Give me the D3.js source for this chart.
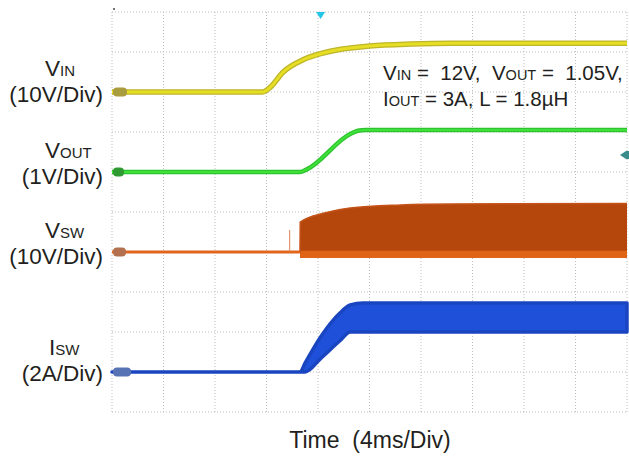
<!DOCTYPE html>
<html>
<head>
<meta charset="utf-8">
<script src="https://cdn.jsdelivr.net/npm/d3@7"></script>
<style>
  html, body { margin: 0; padding: 0; background: #fff; }
  svg { display: block; }
  text { font-family: "Liberation Sans", Arial, sans-serif; fill: #231f20; }
</style>
</head>
<body>
<div id="chart"></div>
<script>
// ─── data (time in ms, values in channel units) ──────────────────
const vinTime   = [0, 11.7, 12.3, 13.3, 14.8, 16.4, 17.9, 20.0, 23.2, 26.3, 40];
const vinVolts  = [0, 0, 1.2, 5.0, 8.0, 9.75, 10.75, 11.5, 12.0, 12.2, 12.2];

const voutTime  = [0, 14.6, 15.1, 18.5, 19.1, 19.7, 40];
const voutVolts = [0, 0, 0.06, 0.95, 1.03, 1.05, 1.05];

const vswTime   = [0, 14.6, 14.62, 16.5, 18.5, 22.4, 26.3, 40];
const vswHigh   = [0, 0, 7.5, 9.75, 11.0, 11.75, 12.0, 12.1];
const vswLow    = [0, 0, -1.5, -1.5, -1.5, -1.5, -1.5, -1.5];
const vswSpikeTime  = [13.8, 13.8];
const vswSpikeVolts = [0, 5.5];

const iswTime   = [0, 14.6, 15.0, 16.2, 17.7, 18.5, 19.5, 40];
const iswHigh   = [0, 0, 0.45, 1.75, 2.95, 3.35, 3.45, 3.45];
const iswLow    = [0, 0, 0, 0.67, 1.56, 2.0, 2.0, 2.0];

const timeTicks = d3.range(0, 41, 4);    // 4ms / div
const divTicks  = d3.range(0, 11, 1);

// ─── layout ──────────────────────────────────────────────────────
const width = 629, height = 456;
const svg = d3.select("#chart").append("svg")
    .attr("width", width).attr("height", height);

const x    = d3.scaleLinear().domain([0, 40]).range([112, 627]);
const yDiv = d3.scaleLinear().domain([0, 10]).range([412, 12]);

// each channel: ground position (div) and units per div
const chan = (pos, perDiv) => v => yDiv(pos + v / perDiv);
const yVin  = chan(8, 10);
const yVout = chan(6, 1);
const yVsw  = chan(4, 10);
const yIsw  = chan(1, 2);

const zipT = (t, v) => t.map((d, i) => [d, v[i]]);

// ─── grid ────────────────────────────────────────────────────────
const grid = svg.append("g");
grid.selectAll("line.v").data(timeTicks).join("line")
    .attr("x1", d => x(d)).attr("x2", d => x(d))
    .attr("y1", yDiv(0)).attr("y2", yDiv(10))
    .attr("stroke", "#bdbdbd").attr("stroke-width", 1)
    .attr("stroke-dasharray", "1,2");
grid.selectAll("line.h").data(divTicks).join("line")
    .attr("x1", x(0)).attr("x2", x(40))
    .attr("y1", d => yDiv(d)).attr("y2", d => yDiv(d))
    .attr("stroke", "#bdbdbd").attr("stroke-width", 1)
    .attr("stroke-dasharray", "1,2");

svg.append("circle").attr("cx", 114).attr("cy", 9).attr("r", 0.9).attr("fill", "#333");

// ─── traces ──────────────────────────────────────────────────────
const smoothLine = yf => d3.line().x(d => x(d[0])).y(d => yf(d[1])).curve(d3.curveMonotoneX);
const straightLine = yf => d3.line().x(d => x(d[0])).y(d => yf(d[1]));

// VIN
svg.append("path").datum(zipT(vinTime, vinVolts))
    .attr("d", smoothLine(yVin)).attr("fill", "none")
    .attr("stroke", "#bdb52a").attr("stroke-width", 5.5);
svg.append("path").datum(zipT(vinTime, vinVolts))
    .attr("d", smoothLine(yVin)).attr("fill", "none")
    .attr("stroke", "#e6de24").attr("stroke-width", 3);

// VOUT
svg.append("path").datum(zipT(voutTime, voutVolts))
    .attr("d", smoothLine(yVout)).attr("fill", "none")
    .attr("stroke", "#2fc42f").attr("stroke-width", 4.5);
svg.append("path").datum(zipT(voutTime, voutVolts))
    .attr("d", smoothLine(yVout)).attr("fill", "none")
    .attr("stroke", "#3ee03a").attr("stroke-width", 2);

// VSW
const vswRows = vswTime.map((t, i) => ({ t, hi: vswHigh[i], lo: vswLow[i] }));
svg.append("path").datum(vswRows)
    .attr("d", d3.area().x(d => x(d.t)).y0(d => yVsw(d.lo)).y1(d => yVsw(d.hi))
        .curve(d3.curveMonotoneX))
    .attr("fill", "#b5470d");
svg.append("path").datum(vswRows)
    .attr("d", d3.area().x(d => x(d.t)).y0(d => yVsw(d.lo)).y1(d => yVsw(Math.min(d.hi, 0.3))))
    .attr("fill", "#df6418");
svg.append("path").datum(zipT(vswTime, vswHigh))
    .attr("d", smoothLine(yVsw)).attr("fill", "none")
    .attr("stroke", "#c4531a").attr("stroke-width", 1.5);
svg.append("path").datum(zipT(vswTime.slice(0, 2), vswHigh.slice(0, 2)))
    .attr("d", straightLine(yVsw)).attr("fill", "none")
    .attr("stroke", "#e2651c").attr("stroke-width", 3);
svg.append("path").datum(zipT(vswSpikeTime, vswSpikeVolts))
    .attr("d", straightLine(yVsw)).attr("fill", "none")
    .attr("stroke", "#e08050").attr("stroke-width", 1);

// ISW
const iswRows = iswTime.map((t, i) => ({ t, hi: iswHigh[i], lo: iswLow[i] }));
svg.append("path").datum(iswRows)
    .attr("d", d3.area().x(d => x(d.t)).y0(d => yIsw(d.lo)).y1(d => yIsw(d.hi))
        .curve(d3.curveMonotoneX))
    .attr("fill", "#1f50da").attr("stroke", "#1a45c0").attr("stroke-width", 3.5)
    .attr("stroke-linejoin", "round");

// ─── channel markers ─────────────────────────────────────────────
const markers = [
    { y: yVin(0),  color: "#a89c3e", w: 14 },
    { y: yVout(0), color: "#2f9a32", w: 11 },
    { y: yVsw(0),  color: "#b47150", w: 13 },
    { y: yIsw(0),  color: "#5873b4", w: 18 }
];
svg.selectAll("rect.marker").data(markers).join("rect")
    .attr("x", 113).attr("y", d => d.y - 4.5)
    .attr("width", d => d.w).attr("height", 9)
    .attr("rx", 4).attr("fill", d => d.color);

// trigger marker (top) and cursor marker (right)
svg.append("path")
    .attr("d", `M${x(16.2) - 4.5},12 L${x(16.2) + 4.5},12 L${x(16.2)},19 Z`)
    .attr("fill", "#22c6e6");
svg.append("path")
    .attr("d", `M620,155 L626,151 L629,151 L629,159 L626,159 Z`)
    .attr("fill", "#3a8c8c");

// ─── labels ──────────────────────────────────────────────────────
const chLabels = [
    { name: "V", sub: "IN",  div: "(10V/Div)", y1: 76,  y2: 102 },
    { name: "V", sub: "OUT", div: "(1V/Div)",  y1: 158, y2: 184 },
    { name: "V", sub: "SW",  div: "(10V/Div)", y1: 238, y2: 264 },
    { name: "I", sub: "SW",  div: "(2A/Div)",  y1: 355, y2: 381 }
];
chLabels.forEach(d => {
    const t = svg.append("text").attr("x", d.name === "I" ? 49 : 45).attr("y", d.y1)
        .style("font-size", "22.5px");
    t.append("tspan").text(d.name);
    t.append("tspan").style("font-size", "15px").text(d.sub);
    svg.append("text").attr("x", 103).attr("y", d.y2)
        .attr("text-anchor", "end").style("font-size", "22.5px").text(d.div);
});

// conditions note
const note1 = svg.append("text").attr("x", 383).attr("y", 80)
    .style("font-size", "20.5px").style("white-space", "pre");
note1.append("tspan").text("V");
note1.append("tspan").style("font-size", "14.5px").text("IN");
note1.append("tspan").text(" =  12V,  V");
note1.append("tspan").style("font-size", "14.5px").text("OUT");
note1.append("tspan").text(" =  1.05V,");

const note2 = svg.append("text").attr("x", 383).attr("y", 106)
    .style("font-size", "20.5px").style("white-space", "pre");
note2.append("tspan").text("I");
note2.append("tspan").style("font-size", "14.5px").text("OUT");
note2.append("tspan").text(" = 3A, L = 1.8\u00B5H");

svg.append("text").attr("x", 370).attr("y", 448)
    .attr("text-anchor", "middle").style("font-size", "23px")
    .style("white-space", "pre").text("Time  (4ms/Div)");
</script>
</body>
</html>
